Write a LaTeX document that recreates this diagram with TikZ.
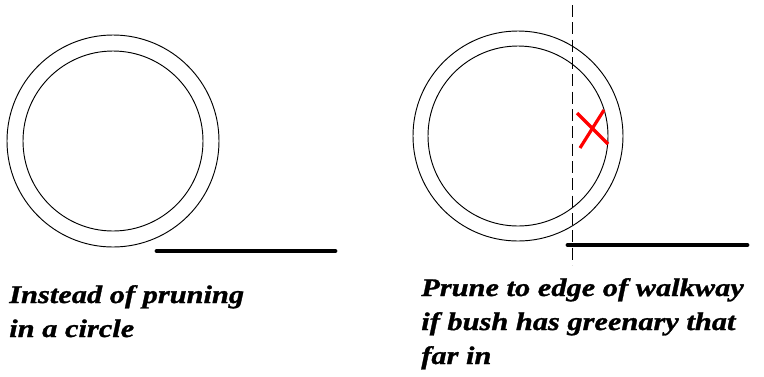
\documentclass[tikz,border=0pt]{standalone}
\usepackage{fontspec}
\setmainfont{Liberation Serif}[FakeStretch=1.2, BoldItalicFeatures={FakeBold=1.2}]
\begin{document}
\begin{tikzpicture}[x=0.75pt, y=-0.75pt,
        ring/.style={line width=0.7pt},
        walk/.style={line width=3.6pt, line cap=round},
        cross/.style={red, line width=2.4pt},
        caption/.style={anchor=base west, align=left, inner sep=0pt,
            font=\fontsize{19}{25.5}\selectfont\bfseries\itshape}]
        \useasboundingbox (0,0) rectangle (764,376);
        % left: pruned in a circle
        \coordinate (L) at (113,141);
        \draw[ring] (L) circle[radius=106];
        \draw[ring] (L) circle[radius=90];
        \coordinate (La) at (157,251);
        \coordinate (Lb) at (335,251);
        \draw[walk] (La)--(Lb);
        \node[caption] (left text) at (9,337) {Instead of pruning\\in a circle};
        % right: pruned to the walkway
        \coordinate (R) at (518,136);
        \draw[ring] (R) circle[radius=105];
        \draw[ring] (R) circle[radius=90];
        \coordinate (Ea) at (572,5);
        \coordinate (Eb) at (572,265);
        \draw[ring, dash pattern=on 9pt off 4pt] (Ea)--(Eb);
        \coordinate (Ra) at (568,245);
        \coordinate (Rb) at (747,245);
        \draw[walk] (Ra)--(Rb);
        \coordinate (Xa) at (577,113);
        \coordinate (Xb) at (608,144);
        \coordinate (Xc) at (604,110);
        \coordinate (Xd) at (580,148);
        \draw[cross] (Xa)--(Xb);
        \draw[cross] (Xc)--(Xd);
        \node[caption] (right text) at (421,364) {Prune to edge of walkway\\if bush has greenary that\\far in};
    \end{tikzpicture}
\end{document}
